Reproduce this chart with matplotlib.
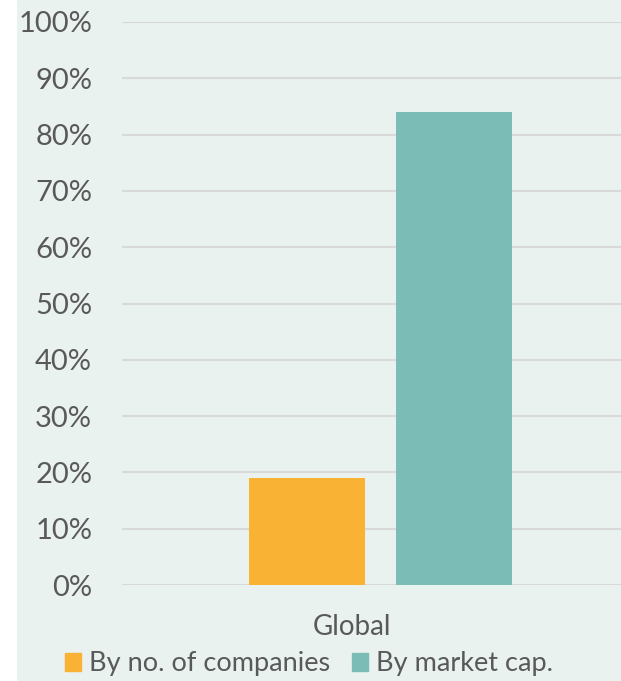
import matplotlib
matplotlib.use("Agg")
import matplotlib.pyplot as plt
import matplotlib.patches as mpatches
from matplotlib.transforms import ScaledTranslation
import numpy as np

categories = ["Global"]
series_names = ["By no. of companies", "By market cap."]
values_companies = [0.19]
values_marketcap = [0.84]
yticks = [0, 0.1, 0.2, 0.3, 0.4, 0.5, 0.6, 0.7, 0.8, 0.9, 1.0]
ytick_labels = ["0%", "10%", "20%", "30%", "40%", "50%", "60%", "70%", "80%", "90%", "100%"]

bg = "#E9F2EF"
orange = "#F9B233"
teal = "#7BBCB7"
txt = "#595959"

plt.rcParams['font.family'] = ['Lato', 'DejaVu Sans']

fig = plt.figure(figsize=(6.21, 6.81), dpi=100, facecolor=bg)
fig.patches.append(mpatches.Rectangle((0, 0), 17/621, 1, transform=fig.transFigure,
                                      facecolor="white", edgecolor="none", zorder=-10))
ax = fig.add_axes([122/621, 1-585/681, 1-122/621, (585-22)/681])
ax.set_facecolor(bg)

x = np.arange(len(categories))
w = 0.2244
off = 0.1422
ax.bar(x - off, values_companies, w, color=orange, zorder=3, label=series_names[0])
ax.bar(x + off, values_marketcap, w, color=teal, zorder=3, label=series_names[1])

ax.set_ylim(0, 1)
ax.set_xlim(-0.5, -0.5 + 499/517)
ax.set_yticks(yticks)
ax.set_yticklabels(ytick_labels)
ax.yaxis.grid(True, color="#D9D9D9", linewidth=1.5, zorder=0)
ax.set_axisbelow(True)
for s in ax.spines.values():
    s.set_visible(False)
ax.tick_params(axis="y", length=0, pad=21.5, labelsize=21, labelcolor=txt)
ax.tick_params(axis="x", length=0, pad=21, labelsize=20, labelcolor=txt)
ax.set_xticks(x)
ax.set_xticklabels(categories)
for lbl in ax.get_xticklabels():
    lbl.set_transform(lbl.get_transform() + ScaledTranslation(-28/100, 0, fig.dpi_scale_trans))

handles = [mpatches.Patch(color=orange), mpatches.Patch(color=teal)]
fig.legend(handles, series_names, loc="center", bbox_to_anchor=(309/621, 1-664/681),
           ncol=2, frameon=False, fontsize=19.5, labelcolor=txt,
           handlelength=0.6, handleheight=0.6, handletextpad=0.3, columnspacing=0.78,
           borderpad=0)

fig.savefig("out.png", dpi=100, facecolor=bg)
